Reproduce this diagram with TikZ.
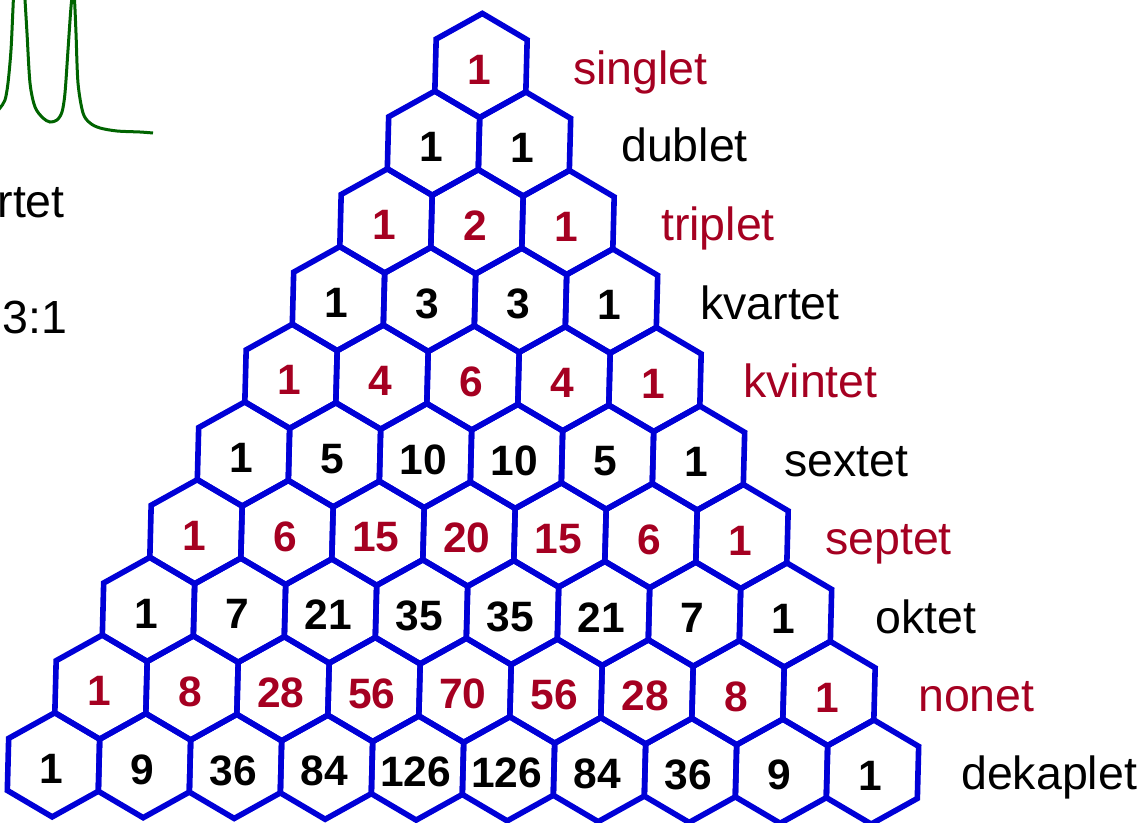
\documentclass[tikz,border=0pt]{standalone}
\usepackage{fontspec}
\setmainfont{Liberation Sans}
\definecolor{hexblue}{RGB}{0,0,215}
\definecolor{nred}{RGB}{165,0,33}
\definecolor{specgreen}{RGB}{0,100,0}
\begin{document}
\begin{tikzpicture}[x=1pt,y=-1pt,
  hexline/.style={draw=hexblue,line width=5.6pt,line join=miter},
  numtxt/.style={font=\fontsize{42.5}{42.5}\selectfont\bfseries,inner sep=0pt,anchor=center},
  lbl/.style={font=\fontsize{46.5}{46.5}\selectfont,inner sep=0pt,anchor=base west},
  spec/.style={draw=specgreen,line width=3pt}]
\useasboundingbox (0,0) rectangle (1148,822);
\clip (0,0) rectangle (1148,822);
\fill[white] (0,0) rectangle (1148,822);
% hexagon triangle
\foreach \rr/\vals/\col in {0/{1}/nred,1/{1,1}/black,2/{1,2,1}/nred,3/{1,3,3,1}/black,4/{1,4,6,4,1}/nred,5/{1,5,10,10,5,1}/black,6/{1,6,15,20,15,6,1}/nred,7/{1,7,21,35,35,21,7,1}/black,8/{1,8,28,56,70,56,28,8,1}/nred,9/{1,9,36,84,126,126,84,36,9,1}/black}{
  \foreach \val [count=\kk from 0] in \vals {
    \pgfmathsetmacro\uu{\kk-\rr/2}
    \pgfmathsetmacro\cx{481+91*\uu-2*\rr}
    \pgfmathsetmacro\cy{65.5+0.8*\uu+78.1*\rr}
    \draw[hexline,shift={(\cx,\cy)}] (1.33,-52.07) -- (46.17,-25.63) -- (44.83,26.43) -- (-1.33,52.07) -- (-46.17,25.63) -- (-44.83,-26.43) -- cycle;
    \node[numtxt,text=\col] (n-\rr-\kk) at (\cx-2,\cy+4) {\val};
  }
}
% row labels
\foreach \nm/\xx/\yy/\col in {singlet/573/84/nred,dublet/621/161/black,triplet/661/240/nred,kvartet/700/319/black,kvintet/743/397/nred,sextet/784/476/black,septet/825/554/nred,oktet/875/633/black,nonet/918/711/nred,dekaplet/961/789/black}{
  \node[lbl,text=\col] (l-\nm) at (\xx,\yy) {\nm};
}
% partial spectrum at top left
\draw[spec] plot[smooth,tension=0.5] coordinates {(-5,114) (0,108) (5,100) (8,83) (11,50) (13,8) (14.5,-20) (19,-40) (23.5,-20) (25,0) (27,33) (30,83) (35,107) (43,118) (50,122) (57,120) (62,112) (65,93) (68,50) (71,7) (73,-8) (74.5,0) (76,33) (78,83) (83,113) (90,123) (100,128) (117,131) (140,132) (153,133)};
\node[lbl] (kv-left) at (-75,217) {kvartet};
\node[lbl] (ratio-left) at (-75,333) {1:3:3:1};
\end{tikzpicture}
\end{document}
